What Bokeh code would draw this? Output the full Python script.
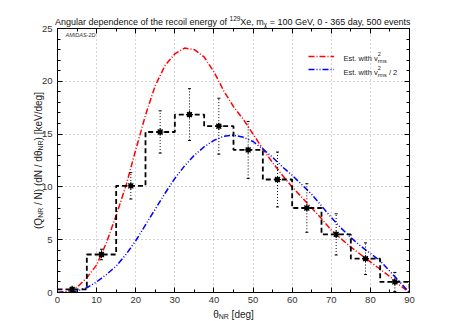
from bokeh.plotting import figure
from bokeh.models import LinearAxis, SingleIntervalTicker, Legend, LegendItem
from bokeh.core.properties import value
from bokeh.embed import file_html
from bokeh.resources import INLINE

# ---------------- data ----------------
bin_edges = [0, 7.5, 15, 22.5, 30, 37.5, 45, 52.5, 60, 67.5, 75, 82.5, 90]
hist_values = [0.3, 3.6, 10.1, 15.2, 16.85, 15.75, 13.5, 10.7, 8.0, 5.5, 3.2, 1.0]
hist_errors = [0.2, 0.5, 1.25, 2.0, 2.45, 2.65, 2.7, 2.6, 2.3, 1.95, 1.5, 0.9]

theta_curve = [0, 2.5, 5, 7.5, 10, 12.5, 15, 17.5, 20, 22.5, 25, 27.5, 30, 32.5, 35,
               37.5, 40, 42.5, 45, 47.5, 50, 52.5, 55, 57.5, 60, 62.5, 65, 67.5, 70,
               72.5, 75, 77.5, 80, 82.5, 85, 87.5, 90]
red_curve = [0.0, 0.1, 0.5, 1.4, 2.6, 4.7, 7.3, 10.1, 13.5, 16.8, 19.6, 21.5, 22.6, 23.15,
             23.0, 22.3, 20.9, 19.1, 17.6, 16.4, 15.0, 13.6, 12.3, 11.1, 10.0, 9.0, 8.0,
             7.0, 5.9, 5.1, 4.3, 3.6, 2.9, 2.2, 1.5, 0.7, 0.0]
blue_curve = [0.0, 0.02, 0.15, 0.45, 1.0, 1.7, 2.5, 3.6, 4.9, 6.4, 7.9, 9.4, 10.8, 12.0,
              13.0, 13.8, 14.4, 14.8, 14.9, 14.7, 14.3, 13.6, 12.8, 11.9, 11.1, 10.2, 9.3,
              8.2, 7.1, 6.1, 5.2, 4.4, 3.7, 3.0, 2.0, 1.0, 0.0]

x_tick_step = 10
y_tick_step = 5

# text pieces: (text, font px, baseline shift px (up +), advances?)
title_parts = [("Angular dependence of the recoil energy of ", 9, 0, True),
               ("129", 6.5, 3.8, True),
               ("Xe, m", 9, 0, True),
               ("\u03c7", 6.5, -2.5, True),
               (" = 100 GeV, 0 - 365 day, 500 events", 9, 0, True)]
xlabel_parts = [("\u03b8", 10, 0, True), ("NR", 7, -2.5, True), (" [deg]", 10, 0, True)]
ylabel_parts = [("(Q", 10, 0, True), ("NR", 7, -2.5, True), (" / N) (dN / d\u03b8", 10, 0, True),
                ("NR", 7, -2.5, True), (") [keV/deg]", 10, 0, True)]
leg1_parts = [("Est. with v", 7.5, 0, True), ("2", 5.5, 4.5, False), ("rms", 5.5, -2.5, True)]
leg2_parts = [("Est. with v", 7.5, 0, True), ("2", 5.5, 4.5, False), ("rms", 5.5, -2.5, True),
              (" / 2", 7.5, 0, True)]
amidas_parts = [("AMIDAS-2D", 5.5, 0, True)]

FONT = "Liberation Sans"

# frame geometry (canvas px)
FL, FT, FW, FH = 57, 28, 352, 264
FB = FT + FH
XMIN, XMAX, YMIN, YMAX = 0, 90, 0, 25

# Arial / Liberation Sans advance widths (per 1000 em)
W = {' ': 278, '(': 333, ')': 333, ',': 278, '-': 333, '.': 278, '/': 278, '=': 584,
     '[': 278, ']': 278, 'A': 667, 'C': 722, 'D': 722, 'E': 667, 'G': 778, 'I': 278,
     'M': 833, 'N': 722, 'Q': 778, 'R': 722, 'S': 667, 'V': 667, 'X': 667,
     'a': 556, 'c': 500, 'd': 556, 'e': 556, 'f': 278, 'g': 556, 'h': 556, 'i': 222,
     'k': 500, 'l': 222, 'm': 833, 'n': 556, 'o': 556, 'p': 556, 'r': 333, 's': 500,
     't': 278, 'u': 556, 'v': 500, 'w': 722, 'y': 500, '\u03b8': 556, '\u03c7': 520}


def tw(s, size):
    return sum(W.get(c, 556) for c in s) * size / 1000.0


p = figure(frame_width=FW, frame_height=FH, x_range=(XMIN, XMAX), y_range=(YMIN, YMAX),
           output_backend="svg", toolbar_location=None,
           min_border_left=FL, min_border_right=458 - FL - FW, min_border_top=FT,
           min_border_bottom=321 - FB,
           background_fill_color="white", border_fill_color="white")
p.outline_line_color = "black"
p.outline_line_width = 1


def style_axis(ax, ticker, show_labels=True):
    ax.ticker = ticker
    ax.axis_line_color = "black"
    ax.major_tick_line_color = "black"
    ax.minor_tick_line_color = "black"
    ax.major_tick_in = 5
    ax.major_tick_out = 0
    ax.minor_tick_in = 3
    ax.minor_tick_out = 0
    ax.major_label_text_font = FONT
    ax.major_label_text_font_size = "9.5px"
    ax.major_label_text_color = "#333333" if show_labels else None


xt = SingleIntervalTicker(interval=x_tick_step, num_minor_ticks=2)
yt = SingleIntervalTicker(interval=y_tick_step, num_minor_ticks=5)
style_axis(p.xaxis[0], xt)
style_axis(p.yaxis[0], yt)
p.xaxis[0].major_label_standoff = 4
p.yaxis[0].major_label_standoff = 5
top = LinearAxis()
style_axis(top, SingleIntervalTicker(interval=x_tick_step, num_minor_ticks=2), False)
right = LinearAxis()
style_axis(right, SingleIntervalTicker(interval=y_tick_step, num_minor_ticks=5), False)
p.add_layout(top, "above")
p.add_layout(right, "right")

p.xgrid.ticker = xt
p.ygrid.ticker = yt
p.grid.grid_line_color = "#aaaaaa"
p.grid.grid_line_dash = "1 3"
p.grid.grid_line_width = 1

# curves
r_red = p.line(theta_curve, red_curve, line_color="#ff0000", line_width=1.5,
               line_dash="6 2 1 2")
r_blue = p.line(theta_curve, blue_curve, line_color="#0000ff", line_width=1.5,
                line_dash="6 2 1 2 1 2")

# histogram with error bars
p.step(bin_edges, hist_values + [0], mode="after", line_color="black", line_width=1.8,
       line_dash="5 3")
centers = [(a + b) / 2 for a, b in zip(bin_edges[:-1], bin_edges[1:])]
lo = [v - e for v, e in zip(hist_values, hist_errors)]
hi = [v + e for v, e in zip(hist_values, hist_errors)]
p.segment(centers, lo, centers, hi, line_color="black", line_width=1, line_dash="1 2")
p.scatter(centers + centers, lo + hi, marker="dash", size=3, line_color="black", line_width=1)
p.scatter(centers, hist_values, marker="square", size=3.5, fill_color="black",
          line_color="black")
p.scatter(centers, hist_values, marker="asterisk", size=7, line_color="black", line_width=1.2)

# legend samples (text drawn separately as rich text)
legend = Legend(items=[LegendItem(label=" ", renderers=[r_red]),
                       LegendItem(label=" ", renderers=[r_blue])],
                location=(251, 217), glyph_width=26, glyph_height=12, label_height=12,
                label_standoff=9, padding=0, spacing=1, border_line_color=None,
                background_fill_alpha=0, label_text_font_size="7px",
                label_text_color=None)
p.add_layout(legend)


def to_data(cx, cy):
    return (XMIN + (cx - FL) * (XMAX - XMIN) / FW, YMIN + (FB - cy) * (YMAX - YMIN) / FH)


def rich(parts, cx, cy, angle=0.0, center=False, color="#111111", style="normal"):
    total = sum(tw(t, s) for t, s, d, adv in parts if adv)
    pos = -total / 2 if center else 0.0
    for t, s, d, adv in parts:
        lead = len(t) - len(t.lstrip(" "))
        at = pos + tw(" " * lead, s)
        if angle == 0:
            px, py = cx + at, cy - d
        else:
            px, py = cx - d, cy - at
        X, Y = to_data(px, py)
        p.text([X], [Y], text=[t.strip(" ")], text_font=value(FONT),
               text_font_size=value(f"{s}px"), text_color=color,
               text_font_style=style, angle=angle,
               text_align="left", text_baseline="alphabetic", level="overlay")
        if adv:
            pos += tw(t, s)


rich(title_parts, FL + FW / 2, 21.5, center=True)
rich(xlabel_parts, FL + FW / 2, 313.5, center=True, color="#222222")
rich(ylabel_parts, 37.5, FT + FH / 2, angle=1.5707963, center=True, color="#222222")
rich(leg1_parts, 343, 57.5, color="#222222")
rich(leg2_parts, 343, 72, color="#222222")
rich(amidas_parts, 65, 34.5, color="#333333", style="italic")

open("out.html", "w").write(file_html(p, INLINE))
